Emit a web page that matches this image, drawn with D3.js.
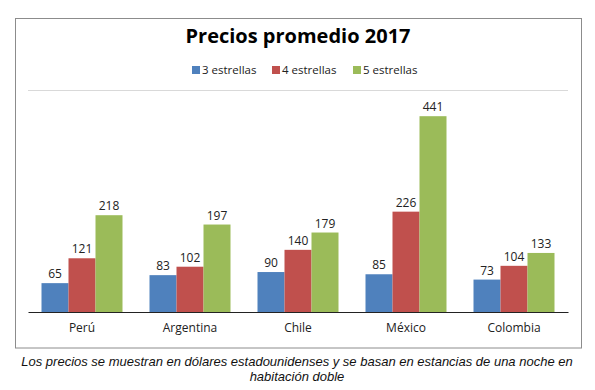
<!DOCTYPE html>
<html lang="es">
<head>
<meta charset="utf-8">
<style>
  body { margin: 0; background: #fff; }
  text { font-family: "Open Sans", "Noto Sans", sans-serif; }
  .caption { font-family: "Liberation Sans", Arial, sans-serif; font-style: italic; font-size: 13px; fill: #111; }
</style>
<script src="https://cdn.jsdelivr.net/npm/d3@7"></script>
</head>
<body>
<div id="chart"></div>
<script>
var paises = ["Perú", "Argentina", "Chile", "México", "Colombia"];
var series = ["3 estrellas", "4 estrellas", "5 estrellas"];
var tres = [65, 83, 90, 85, 73];
var cuatro = [121, 102, 140, 226, 104];
var cinco = [218, 197, 179, 441, 133];
var colores = ["#4F81BD", "#C0504D", "#9BBB59"];

var valores = [tres, cuatro, cinco];

var width = 595, height = 390;
var svg = d3.select("#chart").append("svg")
    .attr("width", width)
    .attr("height", height);

// chart frame
svg.append("rect")
    .attr("x", 15.5).attr("y", 18.5)
    .attr("width", 566).attr("height", 329.5)
    .attr("fill", "#fff")
    .attr("stroke", "#8c8c8c")
    .attr("stroke-width", 1);

svg.append("text")
    .attr("x", 298).attr("y", 43)
    .attr("text-anchor", "middle")
    .style("font-weight", "bold")
    .style("font-size", "20px")
    .attr("fill", "#000")
    .text("Precios promedio 2017");

// legend
var legX = [192, 272, 353];
var leg = svg.selectAll(".leg").data(series).enter().append("g")
    .attr("class", "leg")
    .attr("transform", function(d, i) { return "translate(" + legX[i] + ",66)"; });
leg.append("rect").attr("width", 8).attr("height", 8)
    .attr("fill", function(d, i) { return colores[i]; });
leg.append("text").attr("x", 10).attr("y", 8)
    .style("font-size", "11.5px").attr("fill", "#222")
    .text(function(d) { return d; });

var x0 = d3.scaleBand().domain(paises).range([28, 568])
    .paddingInner(0.25).paddingOuter(0.125);
var x1 = d3.scaleBand().domain(d3.range(series.length)).range([0, x0.bandwidth()]);
var y = d3.scaleLinear().domain([0, 500]).range([312, 90]);

// top gridline
svg.append("line")
    .attr("x1", 28).attr("x2", 568)
    .attr("y1", y(500) + 0.5).attr("y2", y(500) + 0.5)
    .attr("stroke", "#d9d9d9");

var grupos = svg.selectAll(".grupo").data(paises).enter().append("g")
    .attr("class", "grupo")
    .attr("transform", function(d) { return "translate(" + x0(d) + ",0)"; });

grupos.selectAll("rect")
    .data(function(d, i) { return valores.map(function(v, s) { return {s: s, v: v[i]}; }); })
    .enter().append("rect")
    .attr("x", function(d) { return x1(d.s); })
    .attr("width", x1.bandwidth())
    .attr("y", function(d) { return y(d.v); })
    .attr("height", function(d) { return y(0) - y(d.v); })
    .attr("fill", function(d) { return colores[d.s]; });

grupos.selectAll(".lbl")
    .data(function(d, i) { return valores.map(function(v, s) { return {s: s, v: v[i]}; }); })
    .enter().append("text")
    .attr("class", "lbl")
    .attr("x", function(d) { return x1(d.s) + x1.bandwidth() / 2; })
    .attr("y", function(d) { return y(d.v) - 5; })
    .attr("text-anchor", "middle")
    .style("font-size", "12px").attr("fill", "#222")
    .text(function(d) { return d.v; });

// x axis
var ax = svg.append("g")
    .attr("transform", "translate(0," + y(0) + ")")
    .call(d3.axisBottom(x0).tickSize(0).tickPadding(11));
ax.select(".domain").attr("stroke", "#222").attr("stroke-width", 1.2);
ax.selectAll("text").style("font-size", "12px").attr("fill", "#222")
    .style("font-family", "'Open Sans', 'Noto Sans', sans-serif");

svg.append("text").attr("class", "caption")
    .attr("x", 297).attr("y", 366).attr("text-anchor", "middle")
    .text("Los precios se muestran en dólares estadounidenses y se basan en estancias de una noche en");
svg.append("text").attr("class", "caption")
    .attr("x", 297).attr("y", 381).attr("text-anchor", "middle")
    .text("habitación doble");
</script>
</body>
</html>
